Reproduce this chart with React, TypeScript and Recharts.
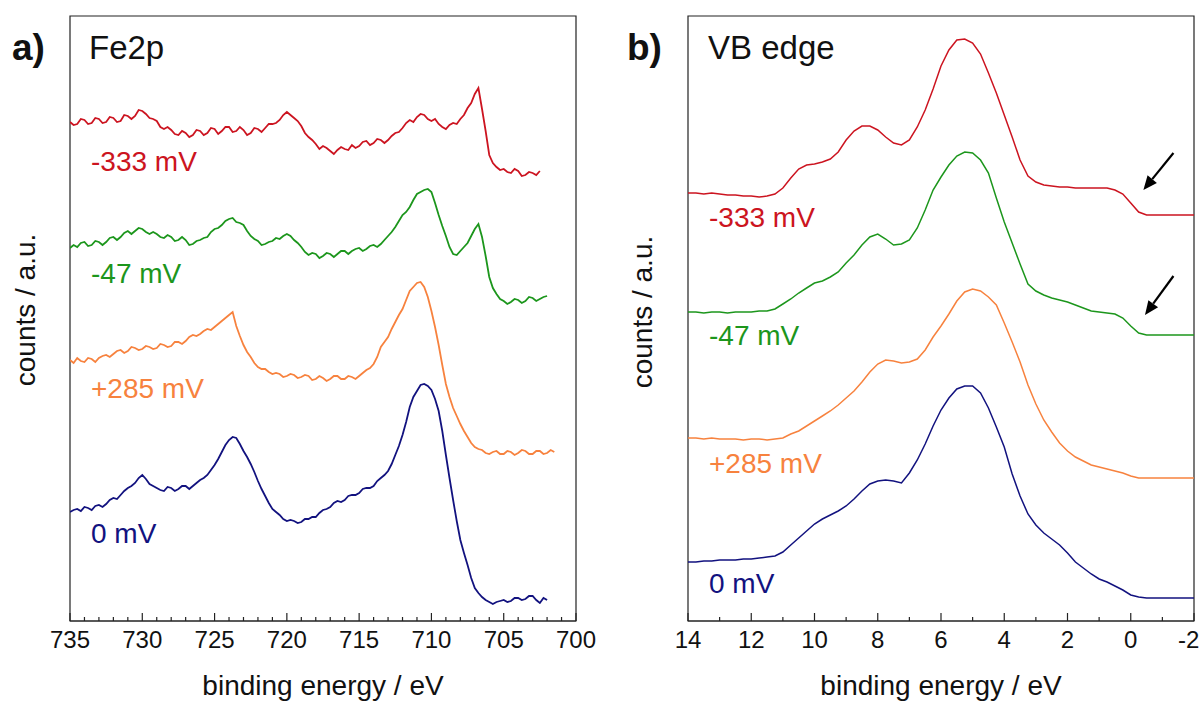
import { LineChart, Line, XAxis, YAxis, ReferenceArea, ReferenceLine } from 'recharts';

const FONT = '"Liberation Sans", Arial, sans-serif';

// Fe2p panel: binding energy grid (eV, 0.25 steps) and traces (a.u., already offset as plotted)
const fe2pEnergy = [
  735, 734.75, 734.5, 734.25, 734, 733.75, 733.5, 733.25, 733, 732.75, 732.5, 732.25, 732, 731.75, 731.5, 731.25, 731, 730.75, 730.5, 730.25,
  730, 729.75, 729.5, 729.25, 729, 728.75, 728.5, 728.25, 728, 727.75, 727.5, 727.25, 727, 726.75, 726.5, 726.25, 726, 725.75, 725.5, 725.25,
  725, 724.75, 724.5, 724.25, 724, 723.75, 723.5, 723.25, 723, 722.75, 722.5, 722.25, 722, 721.75, 721.5, 721.25, 721, 720.75, 720.5, 720.25,
  720, 719.75, 719.5, 719.25, 719, 718.75, 718.5, 718.25, 718, 717.75, 717.5, 717.25, 717, 716.75, 716.5, 716.25, 716, 715.75, 715.5, 715.25,
  715, 714.75, 714.5, 714.25, 714, 713.75, 713.5, 713.25, 713, 712.75, 712.5, 712.25, 712, 711.75, 711.5, 711.25, 711, 710.75, 710.5, 710.25,
  710, 709.75, 709.5, 709.25, 709, 708.75, 708.5, 708.25, 708, 707.75, 707.5, 707.25, 707, 706.75, 706.5, 706.25, 706, 705.75, 705.5, 705.25,
  705, 704.75, 704.5, 704.25, 704, 703.75, 703.5, 703.25, 703, 702.75, 702.5, 702.25, 702, 701.75, 701.5,
];
const fe2pNeg333 = [
  499, 496, 497, 502, 501, 497, 498, 503, 502, 498, 499, 504, 503, 499, 500, 506, 505, 502, 505, 511,
  510, 507, 503, 502, 500, 494, 492, 494, 491, 487, 486, 490, 488, 484, 486, 491, 490, 486, 488, 493,
  492, 487, 490, 494, 494, 489, 490, 494, 491, 486, 488, 493, 492, 489, 493, 497, 497, 498, 501, 506,
  509, 506, 503, 500, 495, 488, 484, 481, 477, 472, 475, 473, 470, 467, 471, 474, 472, 471, 476, 473,
  475, 479, 480, 476, 478, 482, 481, 478, 481, 485, 488, 489, 493, 498, 501, 499, 504, 507, 506, 502,
  500, 502, 497, 494, 492, 496, 498, 497, 502, 506, 513, 518, 527, 533, 512, 490, 466, 458, 454, 451,
  452, 449, 448, 452, 450, 445, 446, 449, 448, 446, 450, null, null, null, null,
];
const fe2pNeg47 = [
  373, 376, 374, 378, 379, 375, 376, 380, 379, 376, 379, 383, 384, 381, 384, 388, 390, 387, 390, 393,
  392, 389, 387, 389, 387, 384, 383, 386, 384, 380, 381, 384, 381, 376, 377, 380, 381, 383, 384, 389,
  392, 393, 396, 400, 402, 403, 399, 398, 396, 390, 385, 382, 380, 376, 377, 379, 380, 383, 382, 385,
  387, 385, 381, 378, 374, 369, 366, 368, 367, 363, 365, 368, 367, 364, 367, 370, 370, 367, 370, 372,
  373, 370, 372, 375, 376, 374, 377, 381, 385, 389, 394, 400, 406, 409, 414, 421, 427, 429, 431, 432,
  429, 418, 406, 395, 385, 374, 367, 366, 370, 374, 378, 385, 392, 397, 384, 365, 344, 333, 327, 322,
  320, 317, 319, 322, 321, 318, 320, 324, 323, 320, 322, 324, 325, null, null,
];
const fe2pPos285 = [
  261, 258, 263, 260, 259, 263, 262, 259, 263, 265, 266, 264, 267, 270, 271, 268, 270, 274, 273, 271,
  272, 275, 274, 272, 273, 277, 276, 274, 275, 279, 279, 277, 280, 284, 286, 285, 287, 290, 292, 291,
  294, 297, 300, 303, 306, 309, 295, 285, 276, 269, 264, 258, 254, 252, 252, 249, 247, 248, 247, 244,
  245, 247, 246, 243, 244, 246, 245, 241, 242, 245, 243, 240, 242, 245, 245, 242, 242, 245, 244, 242,
  245, 248, 251, 253, 257, 264, 274, 279, 284, 292, 299, 306, 312, 321, 330, 334, 338, 339, 334, 324,
  310, 294, 276, 256, 237, 224, 213, 205, 197, 190, 184, 178, 174, 172, 171, 168, 167, 169, 170, 167,
  167, 170, 169, 166, 168, 171, 170, 167, 167, 170, 170, 167, 168, 171, 169,
];
const fe2pZero = [
  109, 111, 112, 110, 114, 113, 111, 115, 116, 114, 117, 121, 123, 122, 126, 130, 133, 135, 138, 143,
  146, 142, 137, 135, 133, 131, 130, 134, 133, 130, 132, 135, 135, 132, 135, 138, 141, 143, 146, 151,
  156, 162, 169, 176, 181, 184, 183, 177, 170, 164, 157, 149, 140, 132, 125, 118, 112, 109, 106, 102,
  100, 101, 100, 98, 99, 102, 102, 104, 104, 108, 111, 112, 114, 118, 120, 119, 121, 125, 126, 126,
  128, 132, 133, 133, 135, 140, 143, 146, 150, 157, 166, 175, 186, 199, 214, 224, 230, 236, 237, 235,
  231, 222, 210, 190, 166, 143, 121, 100, 81, 68, 56, 43, 33, 28, 24, 21, 19, 17, 19, 20,
  21, 19, 20, 23, 23, 21, 22, 25, 25, 21, 18, 23, 21, null, null,
];

// VB edge panel
const vbEnergy = [
  14, 13.75, 13.5, 13.25, 13, 12.75, 12.5, 12.25,
  12, 11.75, 11.5, 11.25, 11, 10.75, 10.5, 10.25,
  10, 9.75, 9.5, 9.25, 9, 8.75, 8.5, 8.25,
  8, 7.75, 7.5, 7.25, 7, 6.75, 6.5, 6.25,
  6, 5.75, 5.5, 5.25, 5, 4.75, 4.5, 4.25,
  4, 3.75, 3.5, 3.25, 3, 2.75, 2.5, 2.25,
  2, 1.75, 1.5, 1.25, 1, 0.75, 0.5, 0.25,
  0, -0.25, -0.5, -0.75, -1, -1.25, -1.5, -1.75,
  -2,
];
const vbNeg333 = [
  428, 428, 427, 428, 427, 426, 426, 425,
  425, 424, 425, 427, 433, 443, 452, 456,
  457, 459, 462, 469, 481, 490, 495, 495,
  491, 484, 478, 476, 481, 494, 511, 532,
  555, 571, 581, 582, 578, 567, 548, 528,
  506, 484, 461, 445, 439, 436, 435, 434,
  434, 433, 433, 433, 433, 433, 431, 427,
  418, 409, 406, 406, 406, 406, 406, 406,
  406,
];
const vbNeg47 = [
  309, 309, 308, 309, 309, 308, 309, 309,
  309, 310, 310, 312, 317, 322, 328, 333,
  338, 340, 344, 349, 358, 366, 376, 384,
  387, 382, 376, 377, 381, 393, 411, 431,
  444, 456, 465, 469, 468, 461, 448, 423,
  399, 378, 357, 337, 330, 326, 323, 321,
  319, 316, 313, 310, 309, 308, 307, 303,
  295, 288, 286, 286, 286, 286, 286, 286,
  286,
];
const vbPos285 = [
  183, 183, 182, 183, 182, 182, 182, 181,
  182, 182, 181, 182, 183, 187, 190, 195,
  200, 205, 210, 216, 223, 230, 239, 249,
  257, 261, 260, 258, 259, 262, 271, 284,
  295, 307, 320, 329, 332, 330, 324, 316,
  298, 279, 259, 236, 217, 201, 189, 178,
  170, 164, 160, 156, 154, 152, 150, 148,
  145, 143, 143, 143, 143, 143, 143, 143,
  143,
];
const vbZero = [
  59, 59, 60, 60, 61, 61, 61, 62,
  62, 63, 64, 65, 69, 76, 83, 90,
  97, 102, 106, 110, 115, 122, 130, 137,
  140, 141, 140, 138, 148, 161, 177, 195,
  211, 223, 232, 235, 235, 228, 213, 194,
  174, 147, 125, 107, 96, 88, 82, 76,
  68, 59, 53, 47, 42, 39, 35, 31,
  26, 24, 23, 23, 23, 23, 23, 23,
  23,
];

const fe2pTicks = [
  700, 701, 702, 703, 704, 705, 706, 707, 708, 709, 710, 711, 712, 713, 714, 715, 716, 717,
  718, 719, 720, 721, 722, 723, 724, 725, 726, 727, 728, 729, 730, 731, 732, 733, 734, 735,
];
const fe2pTickLabels = [735, 730, 725, 720, 715, 710, 705, 700];
const vbTicks = [-2, -1, 0, 1, 2, 3, 4, 5, 6, 7, 8, 9, 10, 11, 12, 13, 14];
const vbTickLabels = [14, 12, 10, 8, 6, 4, 2, 0, -2];

const RED = '#cc1420';
const GREEN = '#1c961c';
const ORANGE = '#f7823e';
const NAVY = '#12127f';
const AXIS = '#222';

const fe2pData = fe2pEnergy.map((e, i) => ({
  e,
  neg333: fe2pNeg333[i],
  neg47: fe2pNeg47[i],
  pos285: fe2pPos285[i],
  zero: fe2pZero[i],
}));

const vbData = vbEnergy.map((e, i) => ({
  e,
  neg333: vbNeg333[i],
  neg47: vbNeg47[i],
  pos285: vbPos285[i],
  zero: vbZero[i],
}));

// inward ticks; labels only on the majors. maxRight keeps the last label inside the page
const makeTick = (labels: number[], maxRight: number) => (props: any) => {
  const { x, y, payload } = props;
  const major = labels.includes(payload.value);
  const half = String(payload.value).length * 6.7;
  const tx = Math.min(x, maxRight - half);
  return (
    <g>
      <line x1={x} x2={x} y1={y} y2={y - (major ? 8 : 4)} stroke={AXIS} strokeWidth={1.2} />
      {major && (
        <text x={tx} y={y + 27} textAnchor="middle" fontSize={24} fill="#111" fontFamily={FONT}>
          {payload.value}
        </text>
      )}
    </g>
  );
};

const arrowShape = (p: any) => {
  const { x1, y1, x2, y2 } = p;
  const dx = x2 - x1;
  const dy = y2 - y1;
  const len = Math.sqrt(dx * dx + dy * dy);
  const ux = dx / len;
  const uy = dy / len;
  const hl = 14;
  const hw = 6;
  const bx = x2 - ux * hl;
  const by = y2 - uy * hl;
  return (
    <g>
      <line x1={x1} y1={y1} x2={bx} y2={by} stroke="#000" strokeWidth={2.2} />
      <polygon
        points={`${x2},${y2} ${bx - uy * hw},${by + ux * hw} ${bx + uy * hw},${by - ux * hw}`}
        fill="#000"
      />
    </g>
  );
};

const seriesKeys = [
  { key: 'neg333', color: RED },
  { key: 'neg47', color: GREEN },
  { key: 'pos285', color: ORANGE },
  { key: 'zero', color: NAVY },
];

const labelStyle = { fontFamily: FONT, fontSize: 28 };

export default function App() {
  return (
    <div style={{ position: 'absolute', left: 0, top: 0, width: 1203, height: 702, background: '#fff', fontFamily: FONT }}>
      <div style={{ position: 'absolute', left: 0, top: 0 }}>
        <LineChart width={600} height={702} data={fe2pData} margin={{ top: 16, right: 24, bottom: 0, left: 70 }}>
          <XAxis
            dataKey="e"
            type="number"
            domain={[700, 735]}
            reversed
            allowDataOverflow
            ticks={fe2pTicks}
            interval={0}
            tickSize={0}
            tickMargin={0}
            tickLine={false}
            axisLine={{ stroke: AXIS, strokeWidth: 1.2 }}
            tick={makeTick(fe2pTickLabels, 600)}
            height={81}
          />
          <YAxis type="number" domain={[0, 605]} hide allowDataOverflow />
          <ReferenceArea x1={700} x2={735} y1={0} y2={605} fill="none" stroke={AXIS} strokeWidth={1.2} ifOverflow="visible" />
          {seriesKeys.map((s) => (
            <Line
              key={s.key}
              dataKey={s.key}
              type="linear"
              stroke={s.color}
              strokeWidth={1.8}
              dot={false}
              activeDot={false}
              isAnimationActive={false}
            />
          ))}
        </LineChart>
      </div>
      <div style={{ position: 'absolute', left: 600, top: 0 }}>
        <LineChart width={603} height={702} data={vbData} margin={{ top: 16, right: 9, bottom: 0, left: 88 }}>
          <XAxis
            dataKey="e"
            type="number"
            domain={[-2, 14]}
            reversed
            allowDataOverflow
            ticks={vbTicks}
            interval={0}
            tickSize={0}
            tickMargin={0}
            tickLine={false}
            axisLine={{ stroke: AXIS, strokeWidth: 1.2 }}
            tick={makeTick(vbTickLabels, 602)}
            height={81}
          />
          <YAxis type="number" domain={[0, 605]} hide allowDataOverflow />
          <ReferenceArea x1={-2} x2={14} y1={0} y2={605} fill="none" stroke={AXIS} strokeWidth={1.2} ifOverflow="visible" />
          {seriesKeys.map((s) => (
            <Line
              key={s.key}
              dataKey={s.key}
              type="linear"
              stroke={s.color}
              strokeWidth={1.5}
              dot={false}
              activeDot={false}
              isAnimationActive={false}
            />
          ))}
          <ReferenceLine segment={[{ x: -1.35, y: 468 }, { x: -0.4, y: 431 }]} ifOverflow="visible" shape={arrowShape} />
          <ReferenceLine segment={[{ x: -1.35, y: 345 }, { x: -0.45, y: 306 }]} ifOverflow="visible" shape={arrowShape} />
        </LineChart>
      </div>
      <svg width={1203} height={702} style={{ position: 'absolute', left: 0, top: 0, pointerEvents: 'none' }}>
        <text x={12} y={60} fontFamily={FONT} fontSize={37} fontWeight="bold" fill="#111">a)</text>
        <text x={89} y={59} fontFamily={FONT} fontSize={33} fill="#111">Fe2p</text>
        <text x={627} y={60} fontFamily={FONT} fontSize={37} fontWeight="bold" fill="#111">b)</text>
        <text x={708} y={59} fontFamily={FONT} fontSize={33} fill="#111">VB edge</text>

        <text x={91} y={171} {...labelStyle} fill={RED}>-333 mV</text>
        <text x={91} y={283} {...labelStyle} fill={GREEN}>-47 mV</text>
        <text x={91} y={398} {...labelStyle} fill={ORANGE}>+285 mV</text>
        <text x={91} y={543} {...labelStyle} fill={NAVY}>0 mV</text>

        <text x={709} y={227} {...labelStyle} fill={RED}>-333 mV</text>
        <text x={709} y={345} {...labelStyle} fill={GREEN}>-47 mV</text>
        <text x={709} y={473} {...labelStyle} fill={ORANGE}>+285 mV</text>
        <text x={709} y={593} {...labelStyle} fill={NAVY}>0 mV</text>

        <text x={323} y={695} textAnchor="middle" {...labelStyle} fill="#111">binding energy / eV</text>
        <text x={941} y={695} textAnchor="middle" {...labelStyle} fill="#111">binding energy / eV</text>
        <text x={35} y={310} textAnchor="middle" transform="rotate(-90 35 310)" {...labelStyle} fill="#111">counts / a.u.</text>
        <text x={652} y={312} textAnchor="middle" transform="rotate(-90 652 312)" {...labelStyle} fill="#111">counts / a.u.</text>
      </svg>
    </div>
  );
}
